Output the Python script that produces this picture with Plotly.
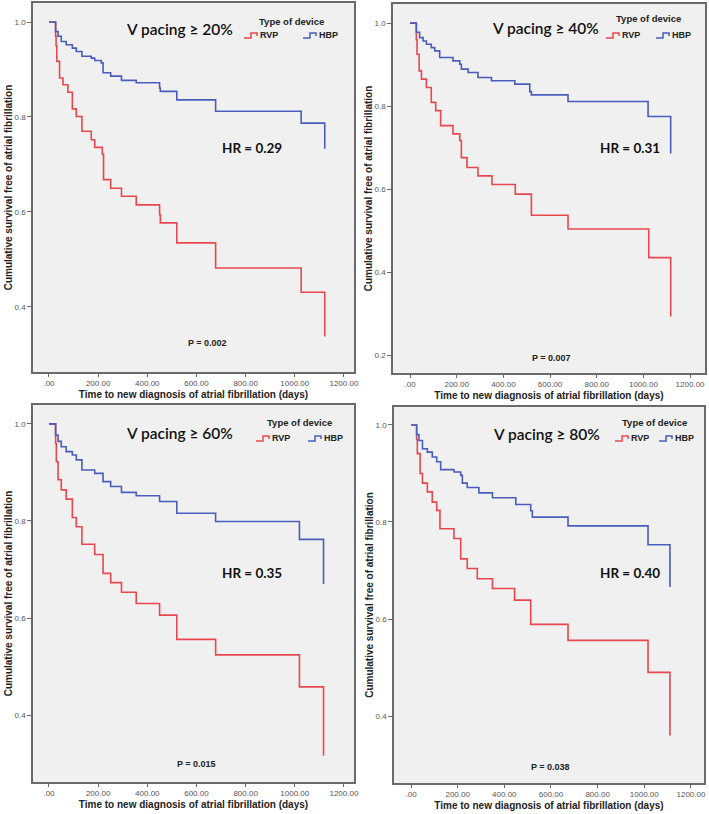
import plotly.graph_objects as go

# ---------------- data ----------------
thresholds = ["20%", "40%", "60%", "80%"]
hr_values = ["0.29", "0.31", "0.35", "0.40"]
p_values = ["0.002", "0.007", "0.015", "0.038"]
groups = ["RVP", "HBP"]

x_tickvals = [0, 200, 400, 600, 800, 1000, 1200]
x_ticktext = [".00", "200.00", "400.00", "600.00", "800.00", "1000.00", "1200.00"]

# V pacing >= 20%
time_20_rvp = [0, 27, 29, 32, 43, 57, 77, 95, 111, 134, 172, 186, 217, 222, 251, 295, 355, 450, 453, 520, 678, 1026, 1122]
surv_20_rvp = [1.0, 0.97, 0.95, 0.917, 0.882, 0.868, 0.852, 0.817, 0.801, 0.770, 0.752, 0.736, 0.721, 0.668, 0.650, 0.633, 0.615, 0.594, 0.577, 0.535, 0.482, 0.431, 0.338]
time_20_hbp = [0, 27, 37, 50, 70, 95, 111, 134, 172, 186, 213, 220, 251, 295, 355, 450, 453, 520, 678, 1026, 1122]
surv_20_hbp = [1.0, 0.980, 0.970, 0.959, 0.952, 0.945, 0.938, 0.928, 0.924, 0.919, 0.914, 0.893, 0.886, 0.877, 0.872, 0.861, 0.854, 0.836, 0.812, 0.787, 0.733]

# V pacing >= 40%
time_40_rvp = [0, 27, 30, 39, 49, 70, 91, 110, 131, 184, 213, 220, 244, 291, 351, 451, 520, 677, 1023, 1117]
surv_40_rvp = [1.0, 0.96, 0.925, 0.885, 0.865, 0.845, 0.809, 0.789, 0.753, 0.733, 0.717, 0.676, 0.652, 0.632, 0.611, 0.588, 0.537, 0.504, 0.435, 0.293]
time_40_hbp = [0, 27, 41, 56, 70, 91, 106, 127, 184, 213, 220, 249, 291, 349, 449, 513, 520, 677, 1020, 1117]
surv_40_hbp = [1.0, 0.978, 0.965, 0.957, 0.949, 0.941, 0.933, 0.917, 0.909, 0.901, 0.889, 0.881, 0.869, 0.861, 0.853, 0.835, 0.827, 0.811, 0.775, 0.686]

# V pacing >= 60%
time_60_rvp = [0, 27, 30, 37, 50, 70, 95, 111, 134, 186, 220, 251, 295, 355, 450, 520, 678, 1019, 1117]
surv_60_rvp = [1.0, 0.96, 0.922, 0.885, 0.864, 0.845, 0.807, 0.788, 0.752, 0.731, 0.692, 0.673, 0.653, 0.630, 0.606, 0.556, 0.524, 0.458, 0.316]
time_60_hbp = [0, 27, 37, 50, 70, 95, 111, 134, 186, 220, 251, 295, 355, 450, 520, 678, 1019, 1117]
surv_60_hbp = [1.0, 0.977, 0.964, 0.953, 0.943, 0.936, 0.926, 0.905, 0.898, 0.881, 0.871, 0.859, 0.852, 0.840, 0.816, 0.799, 0.762, 0.670]

# V pacing >= 80%
time_80_rvp = [0, 24, 27, 39, 49, 70, 91, 110, 124, 184, 213, 241, 284, 349, 444, 513, 673, 1016, 1110]
surv_80_rvp = [1.0, 0.97, 0.941, 0.900, 0.880, 0.862, 0.841, 0.824, 0.786, 0.766, 0.724, 0.704, 0.683, 0.663, 0.639, 0.589, 0.556, 0.490, 0.360]
time_80_hbp = [0, 24, 34, 49, 70, 91, 110, 127, 184, 213, 220, 241, 291, 349, 449, 513, 520, 673, 1016, 1110]
surv_80_hbp = [1.0, 0.98, 0.968, 0.951, 0.944, 0.934, 0.924, 0.908, 0.903, 0.896, 0.880, 0.871, 0.860, 0.850, 0.836, 0.823, 0.810, 0.792, 0.753, 0.666]

series = [
    (time_20_rvp, surv_20_rvp, time_20_hbp, surv_20_hbp),
    (time_40_rvp, surv_40_rvp, time_40_hbp, surv_40_hbp),
    (time_60_rvp, surv_60_rvp, time_60_hbp, surv_60_hbp),
    (time_80_rvp, surv_80_rvp, time_80_hbp, surv_80_hbp),
]
y_tickvals = [
    [0.4, 0.6, 0.8, 1.0],
    [0.2, 0.4, 0.6, 0.8, 1.0],
    [0.4, 0.6, 0.8, 1.0],
    [0.4, 0.6, 0.8, 1.0],
]

# ---------------- layout / style ----------------
W, H = 709, 814
RED = "#e8474f"
BLUE = "#4a5cbc"
COLORS = [RED, BLUE]
FRAME = "#6a6a6a"
AX_FONT = "Liberation Sans Narrow, Liberation Sans, Arial, sans-serif"
TXT_FONT = "Lato, Carlito, sans-serif"

# plot frames in pixels: (left, right, top, bottom)
frames = [(33, 354, 3, 372), (393, 705, 4, 373), (33, 354, 405, 782), (394, 704, 407, 783)]
x_ranges = [[-65, 1241], [-73, 1264], [-65, 1241], [-73, 1256]]
y_ranges = [[0.263, 1.04], [0.157, 1.046], [0.262, 1.039], [0.262, 1.037]]
title_pos = [(533, 0.985), (581, 0.989), (533, 0.981), (579, 0.981)]
hr_pos = [(828, 0.735), (943, 0.700), (828, 0.693), (939, 0.695)]
p_pos = [(645, 0.324), (606, 0.194), (600, 0.300), (600, 0.295)]
# legend block (pixels): title centre x, title y, item y, swatch x0 for each group
legend_px = [
    (291, 21, 35, (244, 303)),
    (648, 19, 35, (606, 656)),
    (299, 422, 438, (256, 308)),
    (654, 422, 438, (615, 659)),
]

fig = go.Figure()
layout = dict(
    width=W, height=H, margin=dict(l=0, r=0, t=0, b=0),
    paper_bgcolor="white", plot_bgcolor="#f0f0f0",
    showlegend=False, annotations=[], shapes=[],
)

def px2paper(x, y):
    return x / W, 1 - y / H

for i, (tr, sr, th, sh) in enumerate(series):
    n = "" if i == 0 else str(i + 1)
    xa, ya = "x" + n, "y" + n
    for (tt, ss), name, col in zip([(tr, sr), (th, sh)], groups, COLORS):
        fig.add_trace(go.Scatter(x=tt, y=ss, mode="lines", line=dict(color=col, width=1.6, shape="hv"),
                                 name=name, xaxis=xa, yaxis=ya, hoverinfo="skip"))
    l, r, t, b = frames[i]
    layout["xaxis" + n] = dict(
        domain=[l / W, r / W], anchor=ya, range=x_ranges[i], automargin=False,
        tickvals=x_tickvals, ticktext=x_ticktext,
        showline=True, linecolor=FRAME, linewidth=1.5, mirror=True,
        ticks="outside", ticklen=3, tickcolor=FRAME, tickwidth=1,
        showgrid=False, zeroline=False,
        tickfont=dict(family=AX_FONT, size=8, color="#555555"),
        title=dict(text="<b>Time to new diagnosis of atrial fibrillation (days)</b>",
                   font=dict(family=AX_FONT, size=10, color="#222222"), standoff=4),
    )
    layout["yaxis" + n] = dict(
        domain=[1 - b / H, 1 - t / H], anchor=xa, range=y_ranges[i], automargin=False,
        tickvals=y_tickvals[i], tickformat=".1f",
        showline=True, linecolor=FRAME, linewidth=1.5, mirror=True,
        ticks="outside", ticklen=4, tickcolor=FRAME, tickwidth=1,
        showgrid=False, zeroline=False,
        tickfont=dict(family=AX_FONT, size=8, color="#555555"),
        title=dict(text="<b>Cumulative survival free of atrial fibrillation</b>",
                   font=dict(family=AX_FONT, size=10, color="#222222"), standoff=0),
    )
    # panel texts
    tx, ty = title_pos[i]
    layout["annotations"].append(dict(
        x=tx, y=ty, xref=xa, yref=ya, xanchor="center", showarrow=False,
        text="V pacing ≥ " + thresholds[i],
        font=dict(family=TXT_FONT, size=15.5, color="#111111", weight=600)))
    hx, hy = hr_pos[i]
    layout["annotations"].append(dict(
        x=hx, y=hy, xref=xa, yref=ya, xanchor="center", showarrow=False,
        text="<b>HR = " + hr_values[i] + "</b>",
        font=dict(family=TXT_FONT, size=13.5, color="#111111")))
    px_, py_ = p_pos[i]
    layout["annotations"].append(dict(
        x=px_, y=py_, xref=xa, yref=ya, xanchor="center", showarrow=False,
        text="<b>P = " + p_values[i] + "</b>",
        font=dict(family=AX_FONT, size=9, color="#222222")))
    # legend block (SPSS-style step swatches)
    tcx, tty, ity, sx = legend_px[i]
    ax_, ay_ = px2paper(tcx, tty)
    layout["annotations"].append(dict(
        x=ax_, y=ay_, xref="paper", yref="paper", xanchor="center", yanchor="middle",
        showarrow=False,
        text="<b>Type of device</b>", font=dict(family=AX_FONT, size=9.5, color="#222222")))
    for name, col, x0 in zip(groups, COLORS, sx):
        pts = [(x0, ity + 3), (x0 + 7, ity + 3), (x0 + 7, ity - 2), (x0 + 13, ity - 2), (x0 + 13, ity + 1)]
        path = "M " + " L ".join("%.4f,%.4f" % px2paper(px, py) for px, py in pts)
        layout["shapes"].append(dict(type="path", path=path, xref="paper", yref="paper",
                                     line=dict(color=col, width=1.5)))
        lx, ly = px2paper(x0 + 14, ity)
        layout["annotations"].append(dict(
            x=lx, y=ly, xref="paper", yref="paper", xanchor="left", yanchor="middle",
            showarrow=False,
            text="<b>" + name + "</b>", font=dict(family=AX_FONT, size=9, color="#222222")))

fig.update_layout(**layout)
fig.write_html(
    "out.html",
    config={"displayModeBar": False},
    post_script="document.body.style.margin='0';document.body.style.padding='0';"
                "document.documentElement.style.overflow='hidden';",
)
